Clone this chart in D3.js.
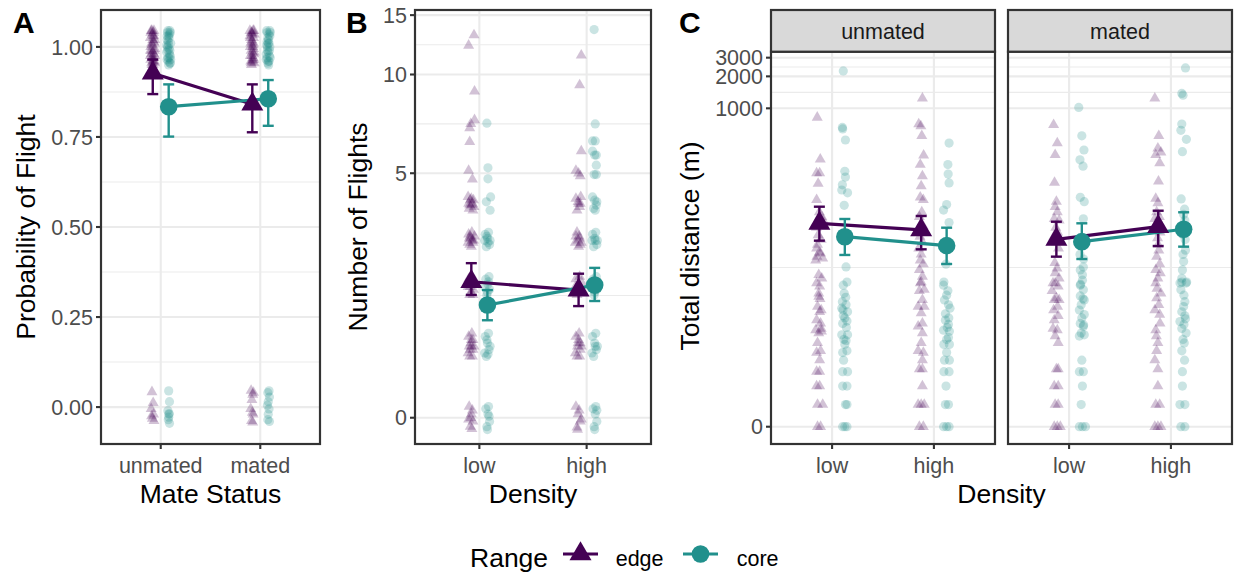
<!DOCTYPE html>
<html><head><meta charset="utf-8">
<script src="https://cdn.jsdelivr.net/npm/d3@7"></script>
<style>body{margin:0;background:#fff} text{font-family:"Liberation Sans",Arial,Helvetica,sans-serif}</style>
</head><body><svg id="c" width="1236" height="575"></svg>
<script>
// ---------------- DATA ----------------
const mateCats = ["unmated","mated"];
const densityCats = ["low","high"];
const rangeLevels = ["edge","core"];
const aTicks = [0,0.25,0.5,0.75,1];
const aTickLabels = ["0.00","0.25","0.50","0.75","1.00"];
const bTicks = [0,5,10,15];
const cTicks = [0,1000,2000,3000];

// Panel A: [jitter, value] (0 = did not fly, 1 = flew; jittered)
const aEdgeUnmated = [[-0.05,1.04],[0.02,0.97],[-0.03,1.01],[0.04,0.96],[-0.06,0.99],[0.01,1.03],[-0.02,0.95],[0.05,1.02],[-0.04,0.98],[0.03,1.045],[0.00,0.985],[-0.05,0.965],[0.02,1.015],[-0.01,1.035],[0.04,0.99],[-0.03,0.955],[0.05,0.975],[-0.06,1.025],[0.01,0.96],[-0.02,1.005],[0.03,0.98],[-0.04,1.045],[0.00,1.02],[0.05,0.955],[-0.05,1.0],[0.02,1.04],[-0.01,0.97],[0.04,1.01],[-0.03,0.99],[0.01,0.95],[-0.06,0.975],[0.03,1.03],[-0.02,1.045],[0.00,0.96],[0.05,0.995],
 [-0.02,0.042],[0.01,0.012],[-0.04,-0.005],[0.02,-0.02],[-0.01,-0.032],[0.03,-0.038],[-0.03,-0.025]];
const aCoreUnmated = [[0.03,1.045],[-0.04,1.02],[0.01,0.995],[-0.02,0.97],[0.04,0.955],[0.0,1.03],[-0.05,1.005],[0.02,0.98],[-0.03,1.04],[0.05,1.01],[-0.01,0.96],[0.03,0.99],[-0.04,0.965],[0.01,1.025],[-0.02,1.045],[0.04,0.975],[0.0,0.95],[-0.05,0.985],[0.02,1.035],[-0.03,1.0],[0.05,0.965],[-0.01,1.015],[0.03,0.955],[-0.04,1.03],[0.01,0.97],[0.0,1.005],[-0.02,0.99],[0.04,1.04],
 [0.0,0.045],[0.02,0.015],[-0.02,-0.01],[0.01,-0.02],[-0.01,-0.035],[0.02,-0.045],[0.0,-0.028],[0.01,-0.018]];
const aEdgeMated = [[0.04,1.045],[-0.03,0.955],[0.01,1.0],[-0.06,1.03],[0.02,0.97],[-0.01,1.04],[0.05,0.985],[-0.04,1.01],[0.0,0.96],[0.03,1.025],[-0.05,0.975],[0.02,1.005],[-0.02,0.95],[0.05,1.035],[-0.03,0.99],[0.01,0.965],[-0.06,1.045],[0.04,0.98],[-0.01,1.015],[0.0,1.035],[-0.04,0.96],[0.03,0.995],[-0.02,1.02],[0.05,0.955],[-0.05,1.0],[0.02,1.045],[-0.01,0.975],[0.03,1.01],[-0.03,1.04],[0.0,0.985],[0.04,0.965],[-0.05,1.025],
 [-0.03,0.046],[0.01,0.035],[-0.01,0.02],[0.03,0.04],[-0.04,-0.005],[0.0,-0.015],[0.02,-0.02],[-0.02,-0.038],[0.01,-0.042]];
const aCoreMated = [[-0.03,1.04],[0.02,0.96],[0.0,1.01],[-0.05,0.98],[0.04,1.03],[-0.01,0.955],[0.03,0.99],[-0.04,1.045],[0.01,1.02],[0.05,0.97],[-0.02,1.0],[0.02,1.035],[-0.05,0.965],[0.0,0.985],[0.04,1.045],[-0.03,1.015],[0.01,0.95],[-0.01,1.025],[0.03,0.975],[-0.04,1.005],[0.05,1.04],[0.0,0.96],[-0.02,0.99],[0.02,1.01],[-0.03,0.97],[0.04,1.0],
 [0.02,0.045],[-0.01,0.04],[0.03,0.028],[0.0,0.015],[-0.02,0.005],[0.02,-0.005],[0.0,-0.02],[-0.01,-0.035],[0.03,-0.04]];
// Panel A means [mean, lower, upper] by mate status
const aEdgeMean = [[0.927,0.869,0.965],[0.841,0.763,0.896]];
const aCoreMean = [[0.834,0.751,0.896],[0.856,0.781,0.908]];

// Panel B: number of flights [jitter, value]
const bEdgeLow = [[0.05,13.1],[-0.05,12.2],[0.06,8.9],[0.06,7.3],[-0.01,7.1],[-0.03,6.9],[-0.03,6.26],[-0.05,5.1],[0.02,4.78],
 [-0.06,4.2],[-0.02,4.1],[0.02,4.0],[0.05,3.9],[-0.04,3.85],[0.0,4.15],[0.03,3.8],[-0.05,4.0],[0.01,3.95],[0.04,4.1],[-0.03,3.95],
 [-0.05,3.15],[-0.01,3.05],[0.03,2.95],[0.06,3.1],[-0.03,2.9],[0.01,3.2],[-0.06,2.95],[0.04,3.0],[0.0,2.85],[-0.02,3.1],[0.02,3.0],[-0.04,3.05],
 [-0.05,2.15],[0.0,2.05],[0.04,1.95],[-0.03,1.85],[0.02,2.2],[-0.06,2.0],[0.05,2.1],[-0.01,1.9],[0.03,1.85],[-0.02,2.0],
 [-0.05,1.15],[-0.01,1.05],[0.03,0.95],[-0.03,0.85],[0.01,1.2],[0.05,1.0],[-0.06,0.9],[0.02,0.85],[0.0,1.1],[-0.04,1.0],[0.03,1.1],[-0.02,0.95],[0.0,1.0],
 [-0.04,0.15],[0.0,0.05],[0.03,-0.05],[-0.02,-0.12],[0.02,0.1],[-0.05,-0.02],[0.01,-0.15],[-0.01,0.0]];
const bCoreLow = [[-0.01,7.14],[0.01,5.2],[0.01,4.8],[0.06,4.2],[-0.02,4.05],[0.05,3.8],
 [-0.04,3.15],[0.0,3.05],[0.04,2.9],[-0.02,2.85],[0.02,3.2],[0.05,3.0],[-0.05,3.0],[0.01,2.95],[-0.01,3.1],
 [-0.03,2.15],[0.01,2.05],[0.04,1.95],[-0.01,1.85],[0.03,2.2],[-0.05,2.0],[0.0,1.9],[0.02,2.1],
 [-0.04,1.15],[0.0,1.05],[0.03,0.95],[-0.02,0.85],[0.02,1.2],[0.05,1.0],[-0.05,0.9],[0.01,0.88],[-0.01,1.1],
 [-0.03,0.12],[0.01,0.05],[0.04,-0.05],[-0.01,-0.12],[0.02,0.15],[0.0,-0.16],[0.03,0.02]];
const bEdgeHigh = [[0.05,11.4],[0.02,9.3],[0.05,5.86],[-0.05,5.1],[0.0,5.0],[0.03,4.9],
 [-0.05,4.15],[-0.01,4.05],[0.02,3.9],[0.04,4.2],[-0.03,3.8],[0.0,4.0],[0.03,4.0],
 [-0.05,3.1],[-0.01,3.0],[0.03,2.9],[-0.03,3.2],[0.01,3.1],[0.05,2.95],[0.0,2.85],[-0.06,2.95],[0.02,3.05],
 [-0.05,2.15],[0.0,2.05],[0.04,1.95],[-0.03,1.85],[0.02,2.2],[-0.06,2.0],[0.05,2.1],[-0.01,1.9],[0.01,2.0],
 [-0.05,1.15],[-0.01,1.05],[0.03,0.95],[-0.03,0.85],[0.01,1.2],[0.05,1.0],[-0.06,0.9],[0.02,0.85],[0.0,1.1],[-0.02,1.0],[0.03,1.05],
 [-0.05,0.15],[-0.01,0.05],[0.03,-0.05],[-0.03,-0.13],[0.01,0.1],[0.05,-0.02],[-0.02,-0.16]];
const bCoreHigh = [[-0.01,13.6],[0.01,7.1],[-0.04,6.3],[0.01,6.3],[-0.04,5.86],[0.0,5.7],[0.03,5.7],[0.03,5.3],[-0.01,4.95],[0.03,4.95],
 [-0.04,4.2],[0.0,4.1],[0.03,3.95],[-0.02,3.85],[0.04,4.05],[0.01,3.8],
 [-0.04,3.15],[0.0,3.05],[0.04,2.9],[-0.02,2.85],[0.02,3.2],[0.05,3.0],[-0.05,3.0],[0.01,3.0],
 [-0.03,2.15],[0.01,2.05],[0.04,1.95],[-0.01,1.85],[0.03,2.2],[-0.05,2.0],[0.0,1.9],
 [-0.04,1.15],[0.0,1.05],[0.03,0.95],[-0.02,0.85],[0.02,1.2],[0.05,1.0],[-0.05,0.9],[0.01,1.0],
 [-0.03,0.12],[0.01,0.05],[0.04,-0.05],[-0.01,-0.12],[0.02,0.15],[0.0,-0.16],[0.04,0.1]];
// Panel B means [mean, lower, upper] by density
const bEdgeMean = [[2.10,1.85,2.48],[1.94,1.65,2.26]];
const bCoreMean = [[1.67,1.41,1.94],[2.035,1.74,2.38]];

// Panel C: total distance (m) [jitter, value]
const cEdgeUnmatedLow = [[-0.035,820],[0.015,330],[-0.045,245],[0.005,245],[-0.02,195],[-0.045,137],[0.0,105],[0.04,95],[0.06,88],[-0.05,75],[-0.02,64],[0.03,58],[-0.03,52],[-0.045,48],[0.0,44],[0.02,43],[-0.04,40],[-0.06,37],[0.055,38.5],[-0.01,27],[0.04,25],[-0.045,22.5],[0.005,21],[-0.01,18],[-0.01,16.8],[0.01,16],[-0.03,13.5],[0.03,12.5],[0.005,12],[-0.045,10],[0.02,9.3],[0.03,8.3],[-0.06,8],[-0.01,7.5],[0.035,7.8],[-0.03,6],[0.02,5],[-0.045,4.8],[0.005,4],[-0.045,3],[0.005,3],[-0.045,2],[0.005,2],[-0.03,1],[0.055,1],[-0.03,0],[0.02,0]];
const cCoreUnmatedLow = [[-0.025,2250],[-0.04,660],[-0.035,640],[0.01,503],[0.0,255],[0.01,225],[-0.04,190],[-0.05,170],[0.045,160],[-0.01,122],[0.02,32],[0.035,23],[-0.025,21.5],[-0.01,18],[0.015,16.5],[-0.04,15],[0.02,14],[-0.05,13],[-0.03,12.5],[0.045,12],[-0.025,11],[0.0,10.5],[-0.035,9.3],[0.035,9.8],[0.025,8.5],[-0.05,7.2],[0.045,7.2],[-0.015,6.5],[0.02,6.3],[0.0,5.8],[0.035,5],[-0.035,4.8],[-0.02,4],[-0.035,3],[0.045,3],[-0.035,2],[0.035,2],[0.01,1],[0.035,1],[-0.035,0],[0.035,0],[0.0,0]];
const cEdgeUnmatedHigh = [[0.02,1240],[-0.04,710],[-0.005,680],[0.01,550],[0.04,360],[-0.015,295],[0.02,230],[0.0,185],[-0.015,145],[0.035,137],[0.01,105],[-0.03,95],[0.03,78],[-0.02,62],[0.02,55],[-0.04,48],[0.0,42],[-0.015,37],[0.035,34],[-0.03,30],[0.02,26],[-0.015,22.5],[0.0,23],[0.05,19.5],[-0.03,19],[0.02,15.6],[-0.05,13.5],[0.05,13.5],[0.0,11.7],[0.02,9.3],[-0.05,8.7],[0.02,7.5],[0.0,6],[-0.05,5],[0.035,4.8],[0.02,4],[-0.03,3.2],[0.02,3.2],[0.02,2],[-0.05,1],[0.0,1],[0.05,1],[-0.03,0],[0.035,0]];
const cCoreUnmatedHigh = [[0.04,470],[0.02,295],[0.025,240],[0.04,198],[0.0,124],[-0.05,110],[0.04,84],[-0.01,34],[-0.045,23],[-0.05,21.5],[0.02,19],[0.0,17.3],[-0.035,15.6],[0.03,14],[0.055,13],[-0.02,11.5],[0.035,10.5],[-0.02,10],[0.03,9.1],[0.01,8.5],[-0.05,8],[0.045,7.8],[0.03,6.8],[0.0,6.5],[-0.045,5.8],[0.045,5.8],[0.0,4.8],[-0.035,4],[0.045,4],[-0.045,3],[0.04,3],[-0.01,2],[-0.02,1],[0.03,1],[-0.05,0],[0.0,0],[0.04,0]];
const cEdgeMatedLow = [[-0.045,700],[0.015,470],[-0.02,365],[-0.03,200],[0.0,132],[-0.02,118],[0.015,105],[-0.035,91],[0.045,88],[-0.01,75],[0.02,68],[-0.04,62],[0.0,55],[0.035,48],[-0.025,35],[0.01,31],[-0.02,28],[0.045,25],[-0.055,22.5],[-0.02,22.5],[0.03,21],[-0.07,19],[0.0,16.2],[-0.035,15.6],[0.045,15.6],[0.02,13.5],[-0.045,12.5],[0.03,11],[-0.035,10],[-0.055,8.3],[0.015,8],[-0.02,7],[0.03,6],[0.0,3.2],[0.03,3.2],[-0.035,2],[0.03,2],[-0.02,1],[0.03,1],[-0.035,0],[0.015,0],[0.065,0]];
const cCoreMatedLow = [[-0.05,1020],[0.0,550],[0.035,405],[-0.03,327],[0.02,285],[-0.025,145],[0.04,132],[0.025,91],[0.0,60],[-0.03,42],[0.03,38],[0.025,32],[-0.025,30],[0.01,27],[0.01,24],[-0.02,22],[-0.025,21.5],[0.025,19.5],[-0.025,17],[0.02,16],[0.04,15.6],[-0.01,14],[-0.04,12.5],[0.04,11.3],[0.0,10.5],[-0.025,9.3],[0.03,9],[0.025,8.7],[-0.01,7.5],[-0.04,7],[0.04,7.2],[0.0,4],[-0.04,3],[0.025,3],[0.01,2],[-0.01,1],[-0.04,0],[0.01,0],[0.06,0]];
const cEdgeMatedHigh = [[-0.055,1240],[0.01,550],[-0.005,420],[-0.04,365],[0.045,385],[0.025,305],[0.005,205],[-0.04,141],[-0.005,128],[-0.025,105],[0.02,95],[-0.055,91],[-0.02,82],[0.03,68],[-0.01,60],[0.0,52],[0.01,46],[-0.025,40],[0.025,34],[-0.04,30],[0.035,28],[-0.005,25],[-0.04,22.5],[-0.02,20],[0.045,18],[-0.025,16.2],[0.01,14],[-0.055,12.5],[0.025,11.3],[0.03,9.3],[-0.04,8],[-0.03,7],[-0.005,6],[-0.025,5],[-0.055,4],[-0.005,3.2],[-0.005,2],[-0.04,1],[0.025,1],[-0.055,0],[-0.005,0],[0.045,0]];
const cCoreMatedHigh = [[0.03,2400],[-0.03,1380],[-0.01,1330],[-0.03,710],[-0.045,620],[0.045,510],[-0.02,390],[-0.04,140],[0.015,112],[0.0,100],[0.02,88],[-0.02,65],[0.025,58],[0.03,46],[-0.01,42],[0.0,36],[-0.02,30],[-0.03,25],[0.05,23],[-0.06,22.5],[-0.03,23],[0.04,22.5],[-0.045,19.5],[0.005,17.3],[0.02,15],[0.0,13.5],[-0.03,12],[0.02,11],[0.03,10.3],[-0.06,9.7],[0.005,9.1],[-0.03,8.3],[0.04,7.5],[-0.01,6.5],[0.01,6],[-0.03,5],[0.015,4],[-0.02,3],[-0.02,2],[-0.06,1],[0.02,1],[-0.045,0],[0.02,0]];
// Panel C means [mean, lower, upper] by density
const cEdgeUnmatedMean = [[82.5,56.6,118.3],[71.4,46.9,96.7]];
const cCoreUnmatedMean = [[61.7,41.5,90.6],[50.8,34.1,75.0]];
const cEdgeMatedMean = [[58.3,40.0,85.4],[76.7,50.4,108.4]];
const cCoreMatedMean = [[55.4,38.0,82.5],[72.5,49.7,104.8]];

// ---------------- DRAWING ----------------
const EDGE = "#440154", CORE = "#21908C";
const GRID = "#EBEBEB", DARK = "#333333", TICKTXT = "#4D4D4D";
const svg = d3.select("#c");
svg.append("rect").attr("width",1236).attr("height",575).attr("fill","#fff");

const tri = s => d3.symbol().type(d3.symbolTriangle).size(s*s*Math.sqrt(3)/4)();
const asinhT = v => Math.asinh(v/2);   // pseudo-log transform

function panelFrame(p){
  const g = svg.append("g");
  p.minorPx.forEach(y => g.append("line").attr("x1",p.L).attr("x2",p.R).attr("y1",y).attr("y2",y).attr("stroke",GRID).attr("stroke-width",1.1));
  p.majorVals.forEach(v => { const y=p.y(v); g.append("line").attr("x1",p.L).attr("x2",p.R).attr("y1",y).attr("y2",y).attr("stroke",GRID).attr("stroke-width",2.1);});
  p.xs.domain().forEach(c => g.append("line").attr("x1",p.xs(c)).attr("x2",p.xs(c)).attr("y1",p.T).attr("y2",p.B).attr("stroke",GRID).attr("stroke-width",2.1));
  return g;
}
function panelBorder(p){
  svg.append("rect").attr("x",p.L).attr("y",p.T).attr("width",p.R-p.L).attr("height",p.B-p.T)
    .attr("fill","none").attr("stroke",DARK).attr("stroke-width",2.2);
}
function yAxis(p, vals, labels){
  vals.forEach((v,i) => {
    const y = p.y(v);
    svg.append("line").attr("x1",p.L-5).attr("x2",p.L).attr("y1",y).attr("y2",y).attr("stroke",DARK).attr("stroke-width",2.1);
    svg.append("text").attr("x",p.L-8).attr("y",y).attr("dy","0.36em").attr("text-anchor","end")
      .attr("font-size",21.5).attr("fill",TICKTXT).text(labels[i]);
  });
}
function xAxis(p){
  p.xs.domain().forEach(c => {
    const x = p.xs(c);
    svg.append("line").attr("x1",x).attr("x2",x).attr("y1",p.B).attr("y2",p.B+5).attr("stroke",DARK).attr("stroke-width",2.1);
    svg.append("text").attr("x",x).attr("y",473).attr("text-anchor","middle").attr("font-size",21.5).attr("fill",TICKTXT).text(c);
  });
}
// jitter values are stored in units of the jitter width (p.jw, category units)
function points(g, p, cat, dodge, data, color, shape){
  const step = p.xs.step();
  data.forEach(d => {
    const x = p.xs(cat) + (dodge + d[0]*p.jw) * step, y = p.y(d[1]);
    if (shape === "tri") g.append("path").attr("d", tri(11)).attr("transform",`translate(${x},${y})`).attr("fill",color).attr("fill-opacity",0.24);
    else g.append("circle").attr("cx",x).attr("cy",y).attr("r",4.6).attr("fill",color).attr("fill-opacity",0.24);
  });
}
function summary(g, p, cats, dodge, means, color){
  const step = p.xs.step();
  const xy = means.map((m,i) => [p.xs(cats[i]) + dodge*step, p.y(m[0])]);
  g.append("path").attr("d", d3.line()(xy)).attr("fill","none").attr("stroke",color).attr("stroke-width",3.2);
  means.forEach((m,i) => {
    const x = xy[i][0];
    const y1 = p.y(m[1]), y2 = p.y(m[2]);
    g.append("line").attr("x1",x).attr("x2",x).attr("y1",y1).attr("y2",y2).attr("stroke",color).attr("stroke-width",2.4);
    [y1,y2].forEach(yy => g.append("line").attr("x1",x-5.5).attr("x2",x+5.5).attr("y1",yy).attr("y2",yy).attr("stroke",color).attr("stroke-width",2.4));
  });
  return xy;
}
function meanPoints(g, xy, color, shape){
  xy.forEach(([x,y]) => {
    if (shape === "tri") g.append("path").attr("d", tri(22)).attr("transform",`translate(${x},${y})`).attr("fill",color);
    else g.append("circle").attr("cx",x).attr("cy",y).attr("r",8.8).attr("fill",color);
  });
}
function tag(x,y,t){ svg.append("text").attr("x",x).attr("y",y).attr("font-size",30).attr("font-weight","bold").attr("fill","#000").text(t); }
function xTitle(x,t){ svg.append("text").attr("x",x).attr("y",503).attr("text-anchor","middle").attr("font-size",26.5).attr("fill","#000").text(t); }
function yTitle(x,y,t){ svg.append("text").attr("transform",`translate(${x},${y}) rotate(-90)`).attr("text-anchor","middle").attr("font-size",26.5).attr("fill","#000").text(t); }

// ----- Panel A -----
const pA = {L:101,R:320,T:10,B:444,jw:0.4};
pA.xs = d3.scalePoint().domain(mateCats).range([pA.L,pA.R]).padding(0.6);
pA.y = d3.scaleLinear().domain([-0.1025,1.1025]).range([pA.B,pA.T]);
pA.majorVals = aTicks;
pA.minorPx = [0.125,0.375,0.625,0.875].map(pA.y);
{
  const g = panelFrame(pA);
  const dA = 0.08;
  points(g,pA,"unmated",-dA,aEdgeUnmated,EDGE,"tri");
  points(g,pA,"mated",-dA,aEdgeMated,EDGE,"tri");
  points(g,pA,"unmated",dA,aCoreUnmated,CORE,"circ");
  points(g,pA,"mated",dA,aCoreMated,CORE,"circ");
  const e = summary(g,pA,mateCats,-dA,aEdgeMean,EDGE);
  const c = summary(g,pA,mateCats,dA,aCoreMean,CORE);
  meanPoints(g,e,EDGE,"tri"); meanPoints(g,c,CORE,"circ");
  panelBorder(pA); yAxis(pA,aTicks,aTickLabels); xAxis(pA);
}

// ----- Panel B -----
const pB = {L:415,R:651,T:10,B:444,jw:0.5};
pB.xs = d3.scalePoint().domain(densityCats).range([pB.L,pB.R]).padding(0.6);
const linB = d3.scaleLinear().domain([-0.177,2.747]).range([pB.B,pB.T]);
pB.y = v => linB(asinhT(v));
pB.majorVals = bTicks;
pB.minorPx = d3.pairs(bTicks.map(asinhT)).map(([a,b]) => linB((a+b)/2));
{
  const g = panelFrame(pB);
  const dB = 0.075;
  points(g,pB,"low",-dB,bEdgeLow,EDGE,"tri");
  points(g,pB,"high",-dB,bEdgeHigh,EDGE,"tri");
  points(g,pB,"low",dB,bCoreLow,CORE,"circ");
  points(g,pB,"high",dB,bCoreHigh,CORE,"circ");
  const e = summary(g,pB,densityCats,-dB,bEdgeMean,EDGE);
  const c = summary(g,pB,densityCats,dB,bCoreMean,CORE);
  meanPoints(g,e,EDGE,"tri"); meanPoints(g,c,CORE,"circ");
  panelBorder(pB); yAxis(pB,bTicks,bTicks.map(String)); xAxis(pB);
}

// ----- Panel C (facets) -----
const linC = d3.scaleLinear().domain([-0.375,8.136]).range([444,51.7]);
const cFacets = [
  {L:771,R:995,label:"unmated",edge:[cEdgeUnmatedLow,cEdgeUnmatedHigh],core:[cCoreUnmatedLow,cCoreUnmatedHigh],em:cEdgeUnmatedMean,cm:cCoreUnmatedMean},
  {L:1008,R:1232,label:"mated",edge:[cEdgeMatedLow,cEdgeMatedHigh],core:[cCoreMatedLow,cCoreMatedHigh],em:cEdgeMatedMean,cm:cCoreMatedMean}
];
cFacets.forEach((f,fi) => {
  const p = {L:f.L,R:f.R,T:51.7,B:444,jw:0.6};
  p.xs = d3.scalePoint().domain(densityCats).range([p.L,p.R]).padding(0.6);
  p.y = v => linC(asinhT(v));
  p.majorVals = cTicks;
  p.minorPx = d3.pairs(cTicks.map(asinhT)).map(([a,b]) => linC((a+b)/2));
  const g = panelFrame(p);
  const dC = 0.125;
  densityCats.forEach((d,i) => points(g,p,d,-dC,f.edge[i],EDGE,"tri"));
  densityCats.forEach((d,i) => points(g,p,d,dC,f.core[i],CORE,"circ"));
  const e = summary(g,p,densityCats,-dC,f.em,EDGE);
  const c = summary(g,p,densityCats,dC,f.cm,CORE);
  meanPoints(g,e,EDGE,"tri"); meanPoints(g,c,CORE,"circ");
  panelBorder(p);
  // strip
  svg.append("rect").attr("x",p.L).attr("y",10).attr("width",p.R-p.L).attr("height",41.7).attr("fill","#D9D9D9").attr("stroke",DARK).attr("stroke-width",2.2);
  svg.append("text").attr("x",(p.L+p.R)/2).attr("y",31).attr("dy","0.36em").attr("text-anchor","middle").attr("font-size",21.5).attr("fill","#1A1A1A").text(f.label);
  if (fi === 0) yAxis(p,cTicks,cTicks.map(String));
  xAxis(p);
});

// titles & tags
tag(13,33,"A"); tag(346,33,"B"); tag(679,33,"C");
xTitle(210.5,"Mate Status"); xTitle(533,"Density"); xTitle(1001.5,"Density");
yTitle(35,227,"Probability of Flight"); yTitle(367,227,"Number of Flights"); yTitle(699,246,"Total distance (m)");

// legend
{
  const lg = svg.append("g");
  lg.append("text").attr("x",470).attr("y",566.7).attr("font-size",26.5).attr("fill","#000").text("Range");
  const keys = [{cx:580.5,color:EDGE,shape:"tri",label:rangeLevels[0],tx:615.7},{cx:700.5,color:CORE,shape:"circ",label:rangeLevels[1],tx:736.7}];
  keys.forEach(k => {
    lg.append("line").attr("x1",k.cx-17.5).attr("x2",k.cx+17.5).attr("y1",554).attr("y2",554).attr("stroke",k.color).attr("stroke-width",3.2);
    if (k.shape==="tri") lg.append("path").attr("d",tri(22)).attr("transform",`translate(${k.cx},554)`).attr("fill",k.color);
    else lg.append("circle").attr("cx",k.cx).attr("cy",554).attr("r",8.8).attr("fill",k.color);
    lg.append("text").attr("x",k.tx).attr("y",566).attr("font-size",21.5).attr("fill","#000").text(k.label);
  });
}
</script></body></html>
